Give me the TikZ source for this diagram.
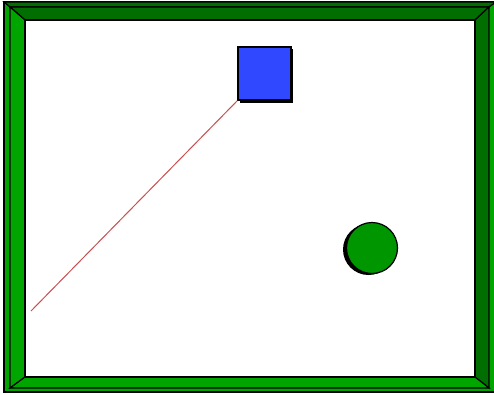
\documentclass[tikz,border=0pt]{standalone}
\usetikzlibrary{calc}
\definecolor{bgreen}{RGB}{0,165,0}
\definecolor{dgreen}{RGB}{0,110,0}
\definecolor{sqblue}{RGB}{48,72,255}
\definecolor{cgreen}{RGB}{0,150,0}
\definecolor{lred}{RGB}{200,80,80}
\tikzset{
  edge/.style={draw=black,line width=1.2pt,line join=miter},
  sq/.style={rectangle,draw=black,line width=1.4pt,fill=sqblue,minimum width=53pt,minimum height=53pt,inner sep=0pt},
  ball/.style={circle,draw=black,line width=1.2pt,fill=cgreen,minimum size=51pt,inner sep=0pt},
}
\begin{document}
\begin{tikzpicture}[x=1pt,y=-1pt]
\useasboundingbox (0,0) rectangle (494,394);
\fill[white] (0,0) rectangle (494,394);
% outer rim
\filldraw[edge,fill=bgreen] (4,2) rectangle (496,392);
\filldraw[edge,fill=dgreen] (4,2) -- (496,2) -- (489,7) -- (10,7) -- cycle;
% bevel frame
\filldraw[edge,fill=dgreen] (10,7) -- (489,7) -- (475,20) -- (25,20) -- cycle;
\filldraw[edge,fill=dgreen] (489,7) -- (489,388) -- (475,377) -- (475,20) -- cycle;
\filldraw[edge,fill=bgreen] (10,7) -- (25,20) -- (25,377) -- (10,388) -- cycle;
\filldraw[edge,fill=bgreen] (10,388) -- (25,377) -- (475,377) -- (489,388) -- cycle;
\filldraw[edge,fill=white] (25,20) rectangle (475,377);
% square with shadow
\fill[black] (239.5,49) rectangle (292.5,103);
\node[sq] (box) at (264.5,73.5) {};
% line
\coordinate (w) at (31,311);
\draw[lred,line width=1pt] (box.south west) -- (w);
% ball with shadow
\fill[black] (368.5,249.5) circle (25.5);
\node[ball] (b) at (372,248) {};
\end{tikzpicture}
\end{document}
